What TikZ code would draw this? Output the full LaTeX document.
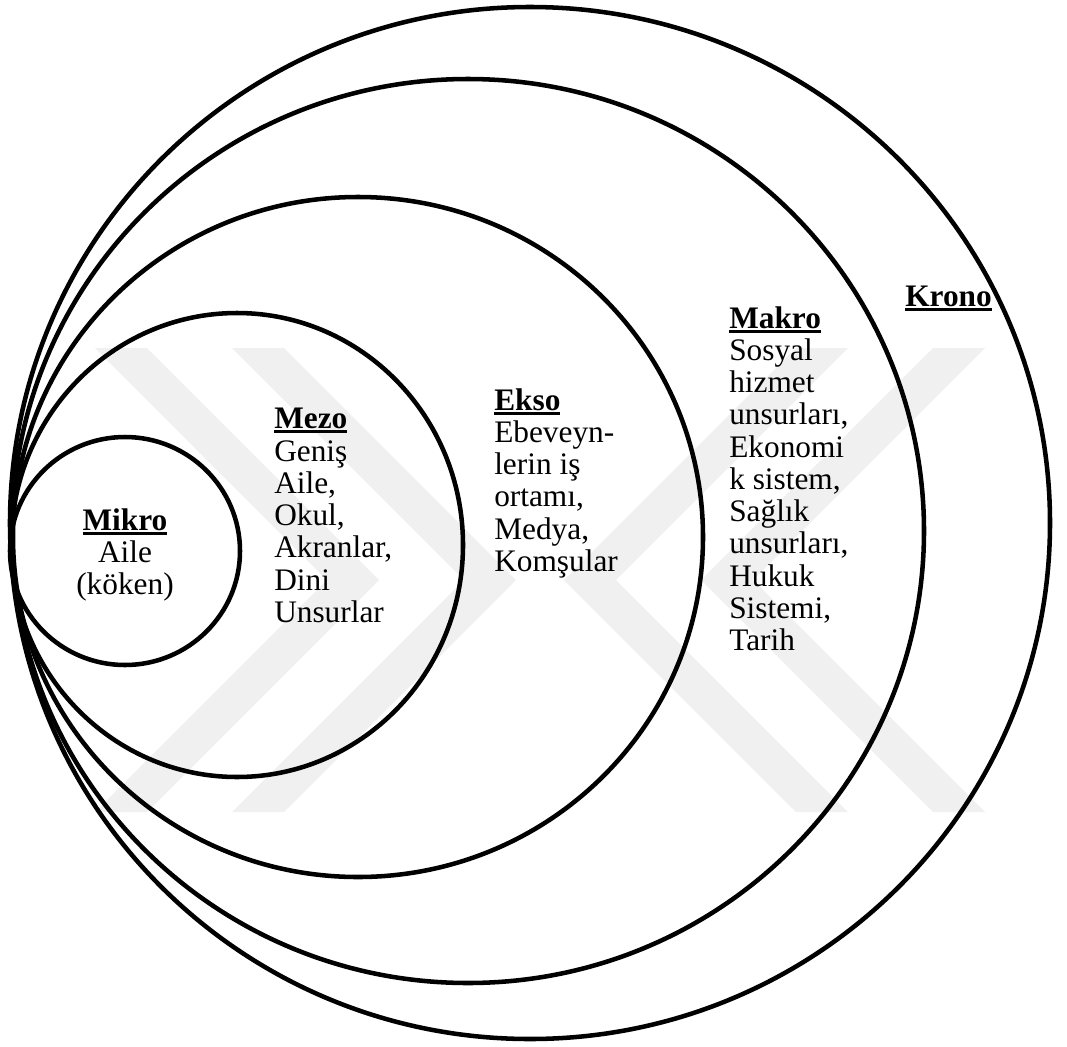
\documentclass[tikz,border=0pt]{standalone}
\usepackage{fontspec}
\setmainfont{Liberation Serif}
% bold heading with a heavy underline
\newcommand{\lvlhead}[1]{\setbox0\hbox{\bfseries #1}\leavevmode\rlap{\rule[-3.4pt]{\wd0}{2.2pt}}\box0}
\begin{document}
\begin{tikzpicture}[x=0.75pt,y=-0.75pt,
    ring/.style={draw=black,line width=3.4pt},
    band/.style={fill=black!6,draw=none},
    lvltext/.style={inner sep=0pt,font=\fontsize{23.5}{24.2}\selectfont}]
  \useasboundingbox (0,0) rectangle (1067,1046);
  \fill[white] (0,0) rectangle (1067,1046);

  % faint background chevrons
  \foreach \a in {95,232}{
    \path[band] (\a,348) -- ++(52,0) -- ++(232,232) -- ++(-232,232) -- ++(-52,0) -- ++(232,-232) -- cycle;
  }
  \foreach \a in {985,848}{
    \path[band] (\a,348) -- ++(-52,0) -- ++(-232,232) -- ++(232,232) -- ++(52,0) -- ++(-232,-232) -- cycle;
  }

  % nested system rings
  \draw[ring] (530,523) ellipse [x radius=520, y radius=516];
  \draw[ring] (468,531) ellipse [x radius=456, y radius=452];
  \draw[ring] (358,537) ellipse [x radius=345, y radius=340];
  \draw[ring] (237,545) ellipse [x radius=226, y radius=232];
  \draw[ring] (125,551) ellipse [x radius=115, y radius=114];

  % level labels
  \node[lvltext,align=center,anchor=north] (mikro) at (125,508)
    {\lvlhead{Mikro}\\Aile\\(köken)};
  \node[lvltext,align=left,anchor=north west] (mezo) at (274,408)
    {\lvlhead{Mezo}\\Geniş\\Aile,\\Okul,\\Akranlar,\\Dini\\Unsurlar};
  \node[lvltext,align=left,anchor=north west] (ekso) at (494,388)
    {\lvlhead{Ekso}\\Ebeveyn-\\lerin iş\\ortamı,\\Medya,\\Komşular};
  \node[lvltext,align=left,anchor=north west] (makro) at (729,306)
    {\lvlhead{Makro}\\Sosyal\\hizmet\\unsurları,\\Ekonomi\\k sistem,\\Sağlık\\unsurları,\\Hukuk\\Sistemi,\\Tarih};
  \node[lvltext,anchor=north west] (krono) at (905,286) {\lvlhead{Krono}};
\end{tikzpicture}
\end{document}
